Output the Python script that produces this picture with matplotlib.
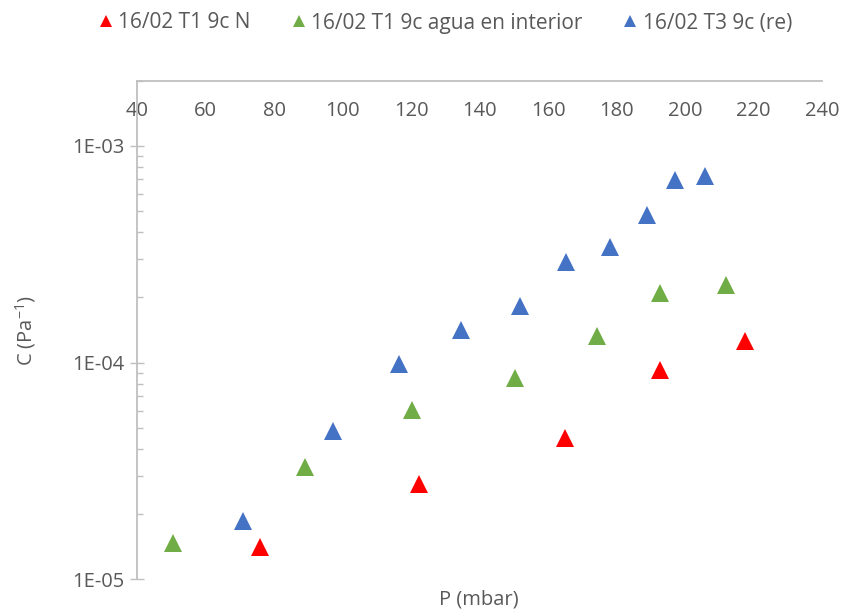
import numpy as np
import matplotlib
matplotlib.use("Agg")
import matplotlib.pyplot as plt
from matplotlib.ticker import LogLocator, FuncFormatter, MultipleLocator, NullFormatter

plt.rcParams['font.family'] = ['Open Sans', 'DejaVu Sans']
plt.rcParams['mathtext.default'] = 'regular'

# P (mbar) and C (Pa^-1) for each run
p_n = [75.9, 122.3, 165.0, 192.7, 217.5]
c_n = [1.41e-5, 2.75e-5, 4.5e-5, 9.2e-5, 1.26e-4]

p_agua = [50.5, 89.1, 120.3, 150.4, 174.3, 192.7, 212.0]
c_agua = [1.47e-5, 3.3e-5, 6.05e-5, 8.5e-5, 1.33e-4, 2.1e-4, 2.28e-4]

p_t3 = [71.0, 97.2, 116.5, 134.6, 151.8, 165.3, 178.1, 188.9, 197.1, 205.8]
c_t3 = [1.86e-5, 4.84e-5, 9.86e-5, 1.42e-4, 1.83e-4, 2.91e-4, 3.42e-4, 4.8e-4, 6.97e-4, 7.27e-4]

labels = ["16/02 T1 9c N", "16/02 T1 9c agua en interior", "16/02 T3 9c (re)"]
colors = ["#FF0000", "#70AD47", "#4472C4"]

txt = "#595959"
axis_col = "#BFBFBF"

fig = plt.figure(figsize=(8.44, 6.15), dpi=100)
ax = fig.add_axes([137 / 844, 1 - 579.3 / 615, (822 - 137) / 844, (579.3 - 80.7) / 615])

for p, c, lab, col in zip([p_n, p_agua, p_t3], [c_n, c_agua, c_t3], labels, colors):
    ax.plot(p, c, linestyle="none", marker="^", markersize=12.7, color=col,
            markeredgewidth=0, label=lab)

ax.set_yscale("log")
ax.set_xlim(40, 240)
ax.set_ylim(1e-5, 2e-3)

# x axis sits on top, labels hang just under the line
ax.xaxis.set_major_locator(MultipleLocator(20))
ax.xaxis.set_ticks_position("top")
ax.tick_params(axis="x", which="both", length=0, labeltop=True, labelbottom=False,
               pad=-29, labelsize=14.5, labelcolor=txt)

ax.yaxis.set_major_locator(LogLocator(base=10, numticks=10))
ax.yaxis.set_minor_locator(LogLocator(base=10, subs=np.arange(2, 10), numticks=10))
ax.yaxis.set_major_formatter(FuncFormatter(lambda v, pos: "1E-%02d" % round(-np.log10(v))))
ax.yaxis.set_minor_formatter(NullFormatter())
ax.tick_params(axis="y", which="major", direction="inout", length=10, width=1,
               color=axis_col, labelsize=14.5, labelcolor=txt, pad=4)
ax.tick_params(axis="y", which="minor", direction="in", length=4, width=1, color=axis_col)

for s in ["right", "bottom"]:
    ax.spines[s].set_visible(False)
for s in ["left", "top"]:
    ax.spines[s].set_color(axis_col)
    ax.spines[s].set_linewidth(1.3)

fig.text(479 / 844, 1 - 600 / 615, "P (mbar)", ha="center", va="center", fontsize=14.5, color=txt)
fig.text(26 / 844, 1 - 330 / 615, "C (Pa$^{-1}$)", ha="center", va="center", rotation=90,
         fontsize=14.5, color=txt)

fig.legend(loc="center", bbox_to_anchor=(446 / 844, 1 - 23 / 615), ncol=3, frameon=False,
           fontsize=15, labelcolor=txt, markerscale=0.7, handlelength=0.6,
           handletextpad=0.3, columnspacing=2.0)

fig.savefig("out.png", dpi=100)
